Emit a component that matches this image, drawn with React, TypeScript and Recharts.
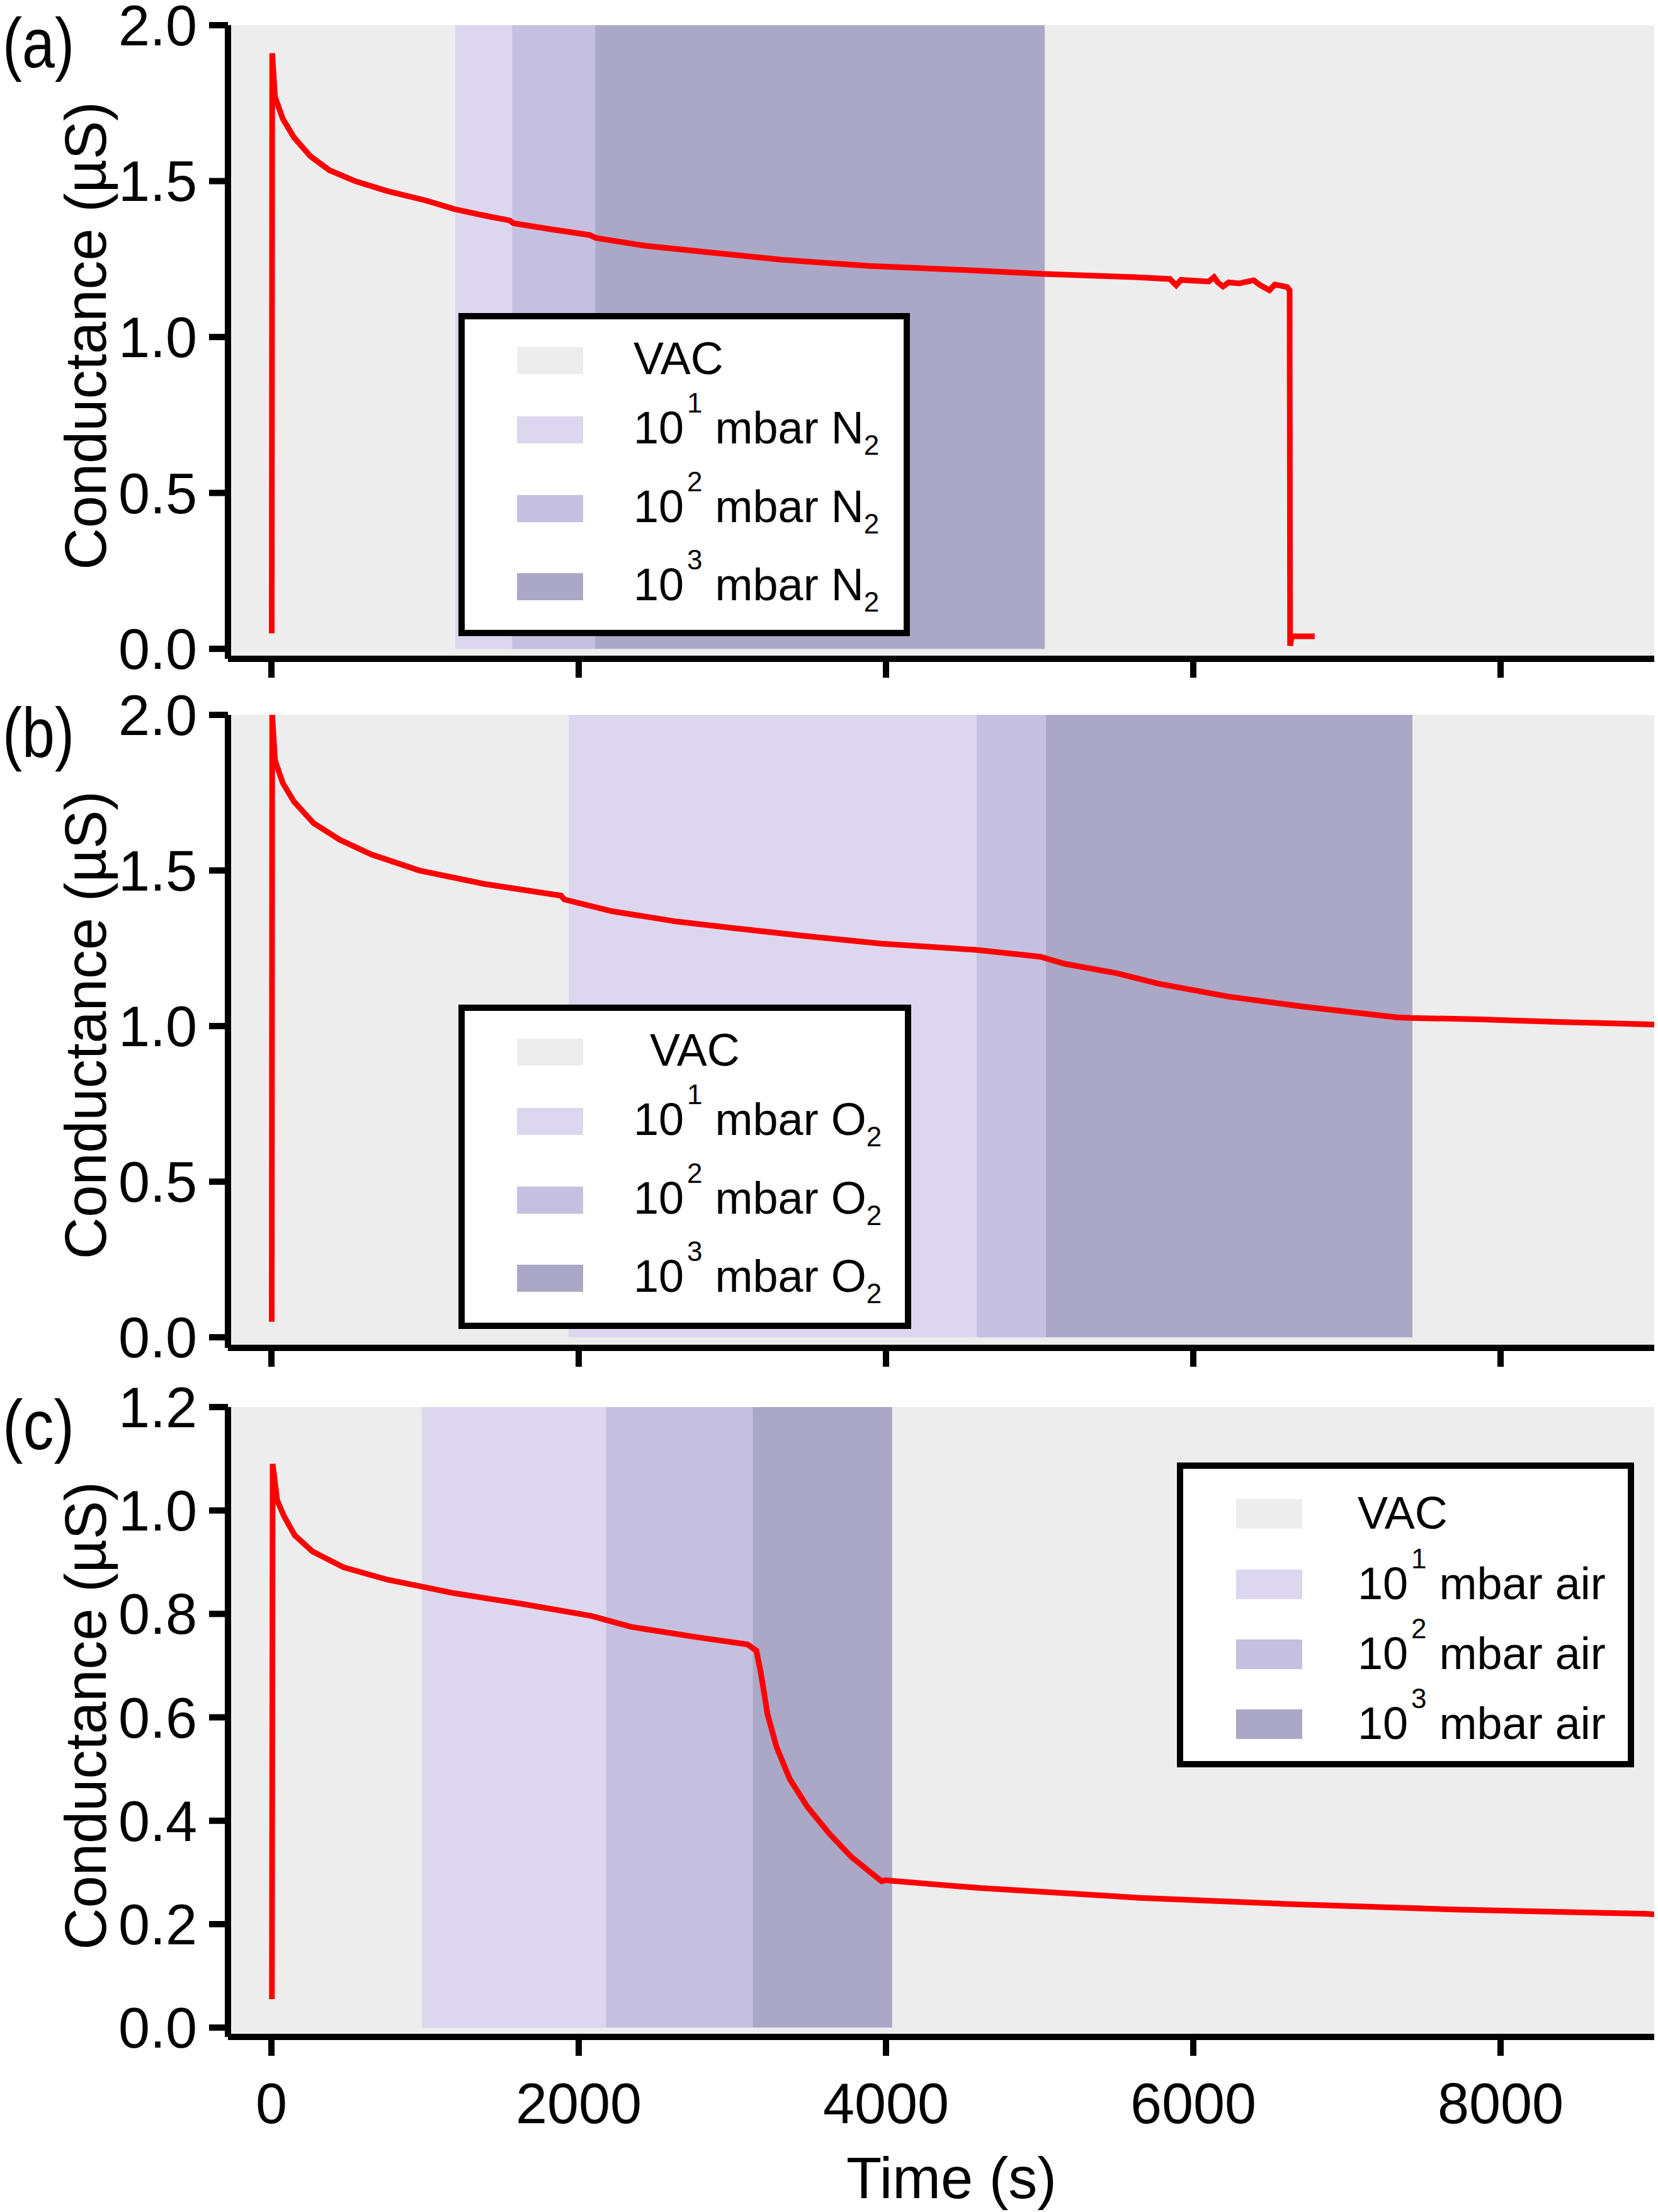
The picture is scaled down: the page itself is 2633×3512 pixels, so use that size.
import React from "react";
import {
  ComposedChart,
  Line,
  XAxis,
  YAxis,
  ReferenceArea,
} from "recharts";

const FONT = '"Liberation Sans", Arial, Helvetica, sans-serif';
const W = 2633;
const H = 3512;
const TOP_PAD = 80;

// time axis, shared by the three panels
const X_MIN = -283;
const X_MAX = 9000;
const xTicks = [0, 2000, 4000, 6000, 8000];
const yTicksAB = [0, 0.5, 1.0, 1.5, 2.0];
const yTicksC = [0, 0.2, 0.4, 0.6, 0.8, 1.0, 1.2];

// (a) N2
const timeA = [2, 5, 23, 74, 147, 253, 377, 545, 754, 1004, 1193, 1381, 1549, 1575, 1799, 2072, 2110, 2426, 2742, 3316, 3893, 4467, 5033, 5619, 5848, 5889, 5920, 6100, 6135, 6160, 6193, 6230, 6300, 6393, 6430, 6496, 6530, 6566, 6611, 6627, 6630, 6640, 6790];
const condA = [0.05, 1.91, 1.77, 1.70, 1.64, 1.58, 1.535, 1.50, 1.468, 1.438, 1.41, 1.39, 1.374, 1.365, 1.347, 1.327, 1.318, 1.293, 1.277, 1.248, 1.228, 1.216, 1.202, 1.192, 1.186, 1.166, 1.183, 1.178, 1.192, 1.175, 1.162, 1.175, 1.172, 1.182, 1.168, 1.15, 1.168, 1.165, 1.16, 1.15, 0.01, 0.04, 0.04];
const bandsA = [1197, 1566, 2107, 5033];

// (b) O2
const timeB = [2, 5, 23, 74, 147, 275, 443, 652, 963, 1381, 1885, 1906, 2217, 2635, 2988, 3500, 3971, 4582, 5004, 5164, 5500, 5775, 6225, 6709, 7324, 7420, 7836, 8400, 8947, 9000];
const condB = [0.05, 2.0, 1.854, 1.781, 1.721, 1.652, 1.599, 1.551, 1.50, 1.457, 1.419, 1.407, 1.369, 1.336, 1.316, 1.288, 1.265, 1.245, 1.223, 1.20, 1.17, 1.136, 1.095, 1.063, 1.028, 1.026, 1.022, 1.013, 1.006, 1.005];
const bandsB = [1934, 4590, 5041, 7426];

// (c) air
const timeC = [3, 8, 37, 82, 152, 266, 471, 758, 975, 1189, 1619, 2082, 2168, 2340, 2770, 3098, 3156, 3184, 3229, 3287, 3373, 3488, 3631, 3775, 3900, 3971, 3996, 4607, 5652, 6697, 7742, 8947, 9000];
const condC = [0.055, 1.09, 1.02, 0.989, 0.952, 0.921, 0.89, 0.866, 0.853, 0.84, 0.82, 0.796, 0.789, 0.775, 0.755, 0.741, 0.729, 0.688, 0.606, 0.543, 0.481, 0.427, 0.375, 0.33, 0.30, 0.283, 0.285, 0.27, 0.251, 0.238, 0.228, 0.22, 0.219];
const bandsC = [980, 2178, 3132, 4040];

const legendExps = ["1", "2", "3"];
const BAND_COLORS = ["#EDEDED", "#DCD7EF", "#C5C0E0", "#ABA7C6"];

const panels = [
  { id: "(a)", top: 40, bottom: 1046, yMin: -0.032, yMax: 2.0, yTicks: yTicksAB, time: timeA, cond: condA, bands: bandsA, labels: false, axisH: 60 },
  { id: "(b)", top: 1135, bottom: 2140, yMin: -0.034, yMax: 2.0, yTicks: yTicksAB, time: timeB, cond: condB, bands: bandsB, labels: false, axisH: 60 },
  { id: "(c)", top: 2234, bottom: 3234, yMin: -0.018, yMax: 1.2, yTicks: yTicksC, time: timeC, cond: condC, bands: bandsC, labels: true, axisH: 278 },
];

const legends = [
  { box: [728, 497, 717, 513], swX: 821, swH: 43, textX: 1006, vacX: 1006, rows: [594, 704, 829, 953], gas: "N", sub: "2" },
  { box: [728, 1595, 719, 515], swX: 821, swH: 43, textX: 1006, vacX: 1032, rows: [1692, 1802, 1927, 2051], gas: "O", sub: "2" },
  { box: [1869, 2322, 726, 484], swX: 1963, swH: 47, textX: 2156, vacX: 2156, rows: [2427, 2539, 2650, 2761], gas: "air", sub: "" },
];

const axisStroke = { stroke: "#000", strokeWidth: 10 };

function Panel({ p }: { p: any }) {
  const data = p.time.map((t: number, i: number) => ({ t, v: p.cond[i] }));
  const chartTop = p.top - TOP_PAD;
  const chartH = TOP_PAD + (p.bottom - p.top) + p.axisH;
  const e = p.bands;
  return (
    <div style={{ position: "absolute", left: 0, top: chartTop, width: W, height: chartH }}>
      <ComposedChart width={W} height={chartH} data={data} margin={{ top: TOP_PAD, right: 6, bottom: 0, left: 0 }}>
        <ReferenceArea x1={X_MIN} x2={X_MAX} y1={p.yMin} y2={p.yMax} fill={BAND_COLORS[0]} fillOpacity={1} stroke="none" />
        <ReferenceArea x1={e[0]} x2={e[1]} y1={0} y2={p.yMax} fill={BAND_COLORS[1]} fillOpacity={1} stroke="none" />
        <ReferenceArea x1={e[1]} x2={e[2]} y1={0} y2={p.yMax} fill={BAND_COLORS[2]} fillOpacity={1} stroke="none" />
        <ReferenceArea x1={e[2]} x2={e[3]} y1={0} y2={p.yMax} fill={BAND_COLORS[3]} fillOpacity={1} stroke="none" />
        <Line type="linear" dataKey="v" stroke="#FF0000" strokeWidth={9} dot={false} isAnimationActive={false} />
        <XAxis
          type="number"
          dataKey="t"
          domain={[X_MIN, X_MAX]}
          allowDataOverflow
          ticks={xTicks}
          interval={0}
          height={p.axisH}
          tickSize={30}
          tickMargin={43}
          axisLine={axisStroke}
          tickLine={axisStroke}
          tick={p.labels ? { fontSize: 90, fill: "#000", fontFamily: FONT } : () => <g />}
        />
        <YAxis
          type="number"
          domain={[p.yMin, p.yMax]}
          allowDataOverflow
          ticks={p.yTicks}
          interval={0}
          width={362}
          tickSize={30}
          tickMargin={19}
          tickFormatter={(v: number) => v.toFixed(1)}
          axisLine={axisStroke}
          tickLine={axisStroke}
          tick={{ fontSize: 90, fill: "#000", fontFamily: FONT }}
        />
      </ComposedChart>
    </div>
  );
}

function LegendBox({ l }: { l: any }) {
  const [bx, by, bw, bh] = l.box;
  return (
    <g fontFamily={FONT} fill="#000">
      <rect x={bx + 5} y={by + 5} width={bw - 10} height={bh - 10} fill="#fff" stroke="#000" strokeWidth={10} />
      {l.rows.map((base: number, i: number) => (
        <rect key={i} x={l.swX} y={base - l.swH} width={105} height={l.swH} fill={BAND_COLORS[i]} />
      ))}
      <text x={l.vacX} y={l.rows[0]} fontSize={72}>VAC</text>
      {legendExps.map((exp, i) => (
        <text key={exp} x={l.textX} y={l.rows[i + 1]} fontSize={72}>
          10
          <tspan dx={5} dy={-49} fontSize={44}>{exp}</tspan>
          <tspan dy={49} fontSize={72}>{"\u00a0mbar " + l.gas}</tspan>
          {l.sub ? <tspan dy={18} fontSize={44}>{l.sub}</tspan> : null}
        </text>
      ))}
    </g>
  );
}

export default function App() {
  return (
    <div style={{ position: "absolute", left: 0, top: 0, width: W, height: H, background: "#fff", overflow: "hidden" }}>
      {panels.map((p) => (
        <Panel key={p.id} p={p} />
      ))}
      <svg width={W} height={H} style={{ position: "absolute", left: 0, top: 0, zIndex: 2, pointerEvents: "none" }}>
        {panels.map((p) => (
          <g key={p.id} fontFamily={FONT} fill="#000">
            <text x={4} y={p.top + 67} fontSize={112} textLength={114} lengthAdjust="spacingAndGlyphs">
              {p.id}
            </text>
            <text transform={`translate(168, ${(p.top + p.bottom) / 2 - 10}) rotate(-90)`} textAnchor="middle" fontSize={92}>
              Conductance (µS)
            </text>
          </g>
        ))}
        {legends.map((l, i) => (
          <LegendBox key={i} l={l} />
        ))}
        <text x={1511} y={3490} textAnchor="middle" fontSize={92} fontFamily={FONT}>
          Time (s)
        </text>
      </svg>
    </div>
  );
}
